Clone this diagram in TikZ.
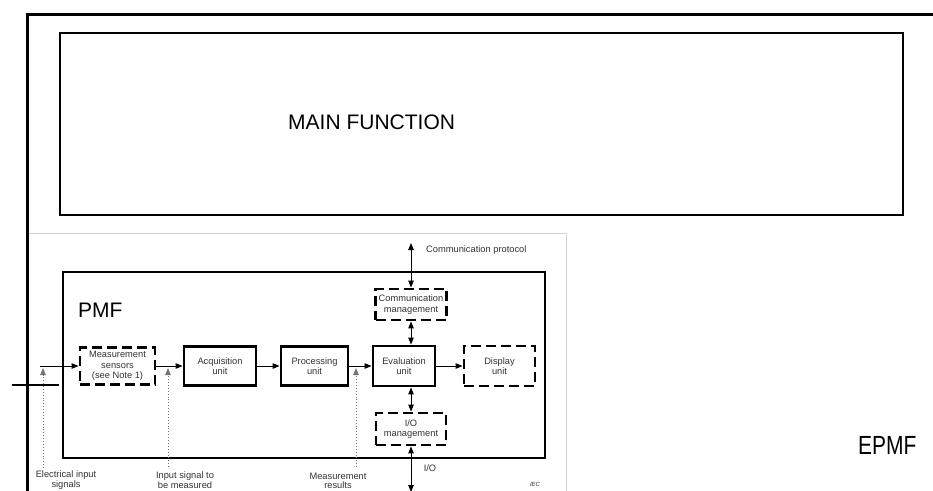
\documentclass[tikz,border=0pt]{standalone}
\usepackage{fontspec}
\setmainfont{Liberation Sans}
\usepackage{graphicx}
\usetikzlibrary{arrows.meta}

\begin{document}
\begin{tikzpicture}[x=1pt,y=-1pt,
    sig/.style={line width=1pt,-{Triangle[length=7pt,width=5.5pt]}},
    bisig/.style={line width=1pt,{Triangle[length=7pt,width=5.5pt]}-{Triangle[length=7pt,width=5.5pt]}},
    dotsig/.style={black!55,line width=0.9pt,dotted,shorten >=2pt,-{Triangle[length=7pt,width=5.5pt]}},
    unitbox/.style={draw,line width=2.9pt,inner sep=0pt,align=center,text=black!80,
      font=\fontsize{9.3}{10.5}\selectfont},
    optbox/.style={unitbox,dash pattern=on 10pt off 5pt},
    note/.style={inner sep=0pt,align=center,text=black!80,font=\fontsize{9.3}{9.5}\selectfont},
    big/.style={inner sep=0pt,anchor=base west,font=\fontsize{21}{21}\selectfont}]
  \useasboundingbox (0,0) rectangle (933,490);
  \clip (0,0) rectangle (933,490);

  % frame of the inserted figure, and the EPMF frame
  \draw[black!18,line width=0.8pt] (29,233) -| (566,495);
  \draw[line width=3pt] (27,495) |- (940,14);

  \node[draw,line width=2.2pt,minimum width=843pt,minimum height=182pt] (mainbox) at (481.5,124) {};
  \node[big] (mainlbl) at (288,129) {MAIN FUNCTION};
  \node[big] (epmf) at (858,454) {\scalebox{1}[1.25]{EPMF}};

  % PMF
  \node[draw,line width=2.3pt,minimum width=482pt,minimum height=186pt] (pmfbox) at (304,365) {};
  \node[big] (pmf) at (78,317) {PMF};

  \node[optbox,minimum width=75pt,minimum height=37pt] (sens) at (117.5,366) {Measurement\\sensors\\(see Note 1)};
  \node[unitbox,minimum width=72pt,minimum height=39pt] (acq) at (220,366) {Acquisition\\unit};
  \node[unitbox,minimum width=67pt,minimum height=39pt] (proc) at (314.5,366) {Processing\\unit};
  \node[unitbox,minimum width=62pt,minimum height=40pt] (eval) at (404,366) {Evaluation\\unit};
  \node[optbox,minimum width=71pt,minimum height=40pt] (disp) at (499.5,366) {Display\\unit};
  \node[optbox,minimum width=71pt,minimum height=31pt] (comm) at (411,304.5) {Communication\\management};
  \node[optbox,minimum width=70pt,minimum height=32pt] (iom) at (411,429) {I/O\\management};

  \coordinate (in0) at (40,366);
  \coordinate (cp) at (411,243);
  \coordinate (io) at (411,492);
  \coordinate (gnd0) at (12,385);
  \coordinate (gnd1) at (59,385);
  \coordinate (e0) at (43,468);
  \coordinate (i0) at (168,467);
  \coordinate (m0) at (356,467);

  \draw[line width=1.3pt] (gnd0) -- (gnd1);

  \path[sig]
    (in0) edge (sens.west)
    (sens.east) edge (acq.west)
    (acq.east) edge (proc.west)
    (proc.east) edge (eval.west)
    (eval.east) edge (disp.west);
  \path[bisig]
    (cp) edge (comm.north)
    (comm.south) edge (comm.south |- eval.north)
    (iom.north |- eval.south) edge (iom.north)
    (iom.south) edge (io);
  \path[dotsig]
    (e0) edge (e0 |- in0)
    (i0) edge (i0 |- in0)
    (m0) edge (m0 |- in0);

  \node[note,anchor=west] (cplbl) at (426,250) {Communication protocol};
  \node[note] (elbl) at (66,480) {Electrical input\\signals};
  \node[note] (ilbl) at (185,480) {Input signal to\\be measured};
  \node[note] (mlbl) at (338,481) {Measurement\\results};
  \node[note] (iolbl) at (430,468) {I/O};
  \node[note,font=\fontsize{6}{6}\itshape] (iec) at (535,484) {IEC};
\end{tikzpicture}
\end{document}
